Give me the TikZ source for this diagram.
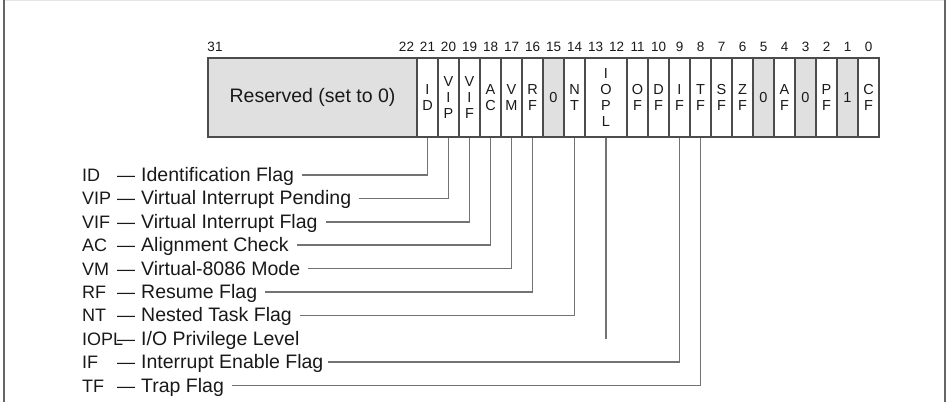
\documentclass[tikz,border=0pt]{standalone}
\usepackage{fontspec}
\setmainfont{Liberation Sans}

\begin{document}
\begin{tikzpicture}[
    x=1pt, y=-1pt,
    cell/.style={
        rectangle,
        draw=black!70,
        line width=1.6pt,
        minimum width=21pt,
        minimum height=79pt,
        inner sep=0pt,
        align=center,
        text=black!90,
        font=\fontsize{14.5}{16}\selectfont
    },
    fixedcell/.style={
        cell,
        fill=black!12
    },
    bitnum/.style={
        inner sep=0pt,
        text=black!90,
        font=\fontsize{13.5}{13.5}\selectfont
    },
    flagtext/.style={
        anchor=west,
        inner sep=3pt,
        text height=13pt,
        text depth=0pt,
        text=black!90,
        font=\fontsize{18}{20}\selectfont
    },
    flagdesc/.style={
        flagtext,
        font=\fontsize{19.5}{22}\selectfont
    },
    leader/.style={
        draw=black!55,
        line width=1.5pt,
        shorten >=5pt
    }
]
    \useasboundingbox (0,0) rectangle (949,402);

    % Frame
    \draw[black!10, line width=1pt] (4,0.5) -- (945,0.5);
    \draw[black!60, line width=2pt] (4,0) -- (4,402);
    \draw[black!60, line width=2pt] (945,0) -- (945,402);

    % Bit numbers
    \node[bitnum] (n31) at (215,47) {31};
    \foreach \b in {0,...,22}
        \node[bitnum] (n\b) at ({879-(\b+0.5)*21},47) {\b};

    % Register
    \node[fixedcell, minimum width=209pt, font=\fontsize{19.5}{22}\selectfont]
        (cRes) at (312.5,97.5) {Reserved (set to 0)};

    \foreach \b/\n/\t in {21/ID/{I\\D}, 20/VIP/{V\\I\\P}, 19/VIF/{V\\I\\F},
                          18/AC/{A\\C}, 17/VM/{V\\M}, 16/RF/{R\\F},
                          14/NT/{N\\T}, 11/OF/{O\\F}, 10/DF/{D\\F},
                          9/IF/{I\\F}, 8/TF/{T\\F}, 7/SF/{S\\F},
                          6/ZF/{Z\\F}, 4/AF/{A\\F}, 2/PF/{P\\F}, 0/CF/{C\\F}}
        \node[cell] (c\n) at ({879-(\b+0.5)*21},97.5) {\t};

    \foreach \b/\t in {15/0, 5/0, 3/0, 1/1}
        \node[fixedcell] (cR\b) at ({879-(\b+0.5)*21},97.5) {\t};

    \node[cell, minimum width=42pt] (cIOPL) at (606,97.5) {I\\O\\P\\L};

    % Flag names
    \foreach \n/\d [count=\i] in {ID/Identification Flag,
                                  VIP/Virtual Interrupt Pending,
                                  VIF/Virtual Interrupt Flag,
                                  AC/Alignment Check,
                                  VM/Virtual-8086 Mode,
                                  RF/Resume Flag,
                                  NT/Nested Task Flag,
                                  IOPL/{I/O Privilege Level},
                                  IF/Interrupt Enable Flag,
                                  TF/Trap Flag}
    {
        \node[flagtext] (a\n) at (79,{175+23.4*(\i-1)}) {\n};
        \node[flagtext] (m\n) at (114,{175+23.4*(\i-1)}) {—};
        \node[flagdesc] (d\n) at (138,{175+23.4*(\i-1)}) {\d};
    }

    % Leaders
    \foreach \n in {ID,VIP,VIF,AC,VM,RF,NT,TF}
        \draw[leader] (c\n.south) |- (d\n.east);
    \draw[leader, shorten >=1pt] (cIF.south) |- (dIF.east);
    \draw[leader, shorten >=0pt] (cIOPL.south) -- (cIOPL.south |- dIOPL.east);

\end{tikzpicture}
\end{document}
